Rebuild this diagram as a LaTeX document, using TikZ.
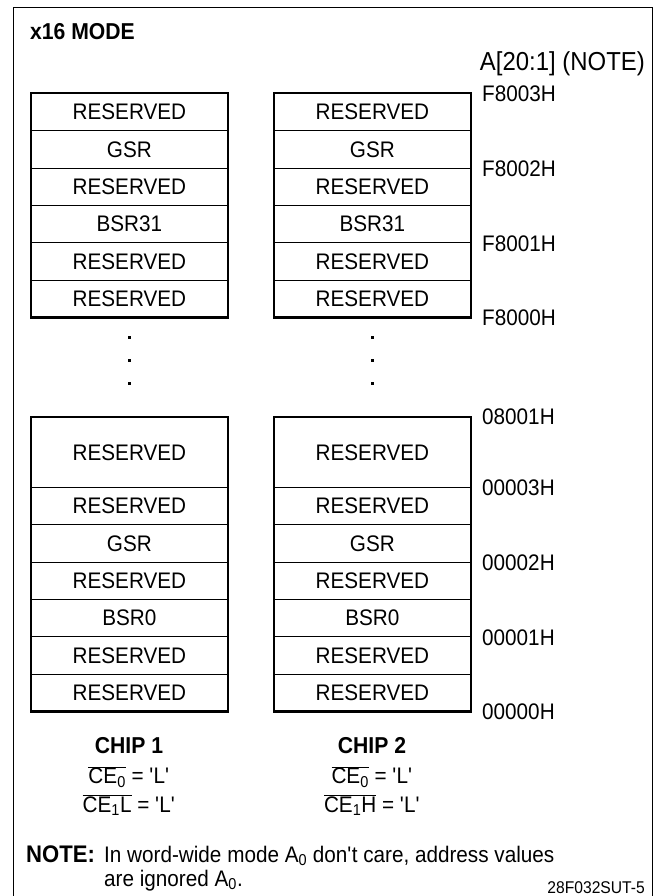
\documentclass[tikz,border=0pt]{standalone}
\usepackage{fontspec}
\setmainfont{Liberation Sans}[FakeStretch=0.92]
\newcommand{\fs}[1]{\fontsize{#1}{#1}\selectfont}
\newcommand{\sq}{\textquotesingle}
\begin{document}
\begin{tikzpicture}[x=1pt,y=-1pt,
  cell/.style={draw, line width=0.8pt, minimum width=196pt, inner sep=0pt, anchor=north west, font=\fs{22.5}},
  outline/.style={line width=2.6pt},
  addr/.style={anchor=west, inner sep=0pt, font=\fs{22.5}},
  frame/.style={line width=1pt},
  lbl/.style={inner sep=0pt, font=\fs{22.5}},
  notetext/.style={anchor=base west, inner sep=0pt, font=\fs{22.5}}]
\useasboundingbox (0,0) rectangle (665,896);
\draw[frame] (13.5,900) -- (13.5,7.5) -- (652,7.5) -- (652,900);
\node[anchor=west, inner sep=0pt, font=\bfseries\fs{23}] (title) at (30,32) {x16 MODE};
\node[anchor=east, inner sep=0pt, font=\fs{26}] (atitle) at (645,64) {A[20:1] (NOTE)};
% top groups
\foreach \t [count=\i] in {RESERVED,GSR,RESERVED,BSR31,RESERVED,RESERVED}{
  \node[cell, minimum height=37.33pt] (lt\i) at (31,{93+37.33*(\i-1)}) {\t};
  \node[cell, minimum height=37.33pt] (rt\i) at (274,{93+37.33*(\i-1)}) {\t};
}
\draw[outline] (lt1.north west) rectangle (lt6.south east);
\draw[outline] (rt1.north west) rectangle (rt6.south east);
% bottom groups
\node[cell, minimum height=70pt] (lb0) at (31,417) {RESERVED};
\node[cell, minimum height=70pt] (rb0) at (274,417) {RESERVED};
\foreach \t [count=\i] in {RESERVED,GSR,RESERVED,BSR0,RESERVED,RESERVED}{
  \node[cell, minimum height=37.33pt] (lb\i) at (31,{487+37.33*(\i-1)}) {\t};
  \node[cell, minimum height=37.33pt] (rb\i) at (274,{487+37.33*(\i-1)}) {\t};
}
\draw[outline] (lb0.north west) rectangle (lb6.south east);
\draw[outline] (rb0.north west) rectangle (rb6.south east);
% dots
\foreach \x in {129,372}{
  \foreach \y in {337,360,383}{
    \fill (\x-1.5,\y-1.5) rectangle (\x+1.5,\y+1.5);
  }
}
% addresses
\node[addr] (a1) at (482,94) {F8003H};
\node[addr] (a2) at (482,169) {F8002H};
\node[addr] (a3) at (482,244) {F8001H};
\node[addr] (a4) at (482,318) {F8000H};
\node[addr] (a5) at (482,417) {08001H};
\node[addr] (a6) at (482,488) {00003H};
\node[addr] (a7) at (482,563) {00002H};
\node[addr] (a8) at (482,638) {00001H};
\node[addr] (a9) at (482,712) {00000H};
% chip labels
\node[lbl, font=\bfseries\fs{23}] (c1) at (129,746) {CHIP 1};
\node[lbl] (c1a) at (129,777) {$\overline{\mbox{CE\textsubscript{0}}}$ = \sq L\sq};
\node[lbl] (c1b) at (129,805) {$\overline{\mbox{CE\textsubscript{1}L}}$ = \sq L\sq};
\node[lbl, font=\bfseries\fs{23}] (c2) at (372,746) {CHIP 2};
\node[lbl] (c2a) at (372,777) {$\overline{\mbox{CE\textsubscript{0}}}$ = \sq L\sq};
\node[lbl] (c2b) at (372,805) {$\overline{\mbox{CE\textsubscript{1}H}}$ = \sq L\sq};
% note
\node[notetext, font=\bfseries\fs{24}] (nt) at (26,862) {NOTE:};
\node[notetext] (n1) at (104,862) {In word-wide mode A\textsubscript{0} don\sq t care, address values};
\node[notetext] (n2) at (104,886) {are ignored A\textsubscript{0}.};
\node[anchor=east, inner sep=0pt, font=\fs{17}] (ref) at (645,888) {28F032SUT-5};
\end{tikzpicture}
\end{document}
